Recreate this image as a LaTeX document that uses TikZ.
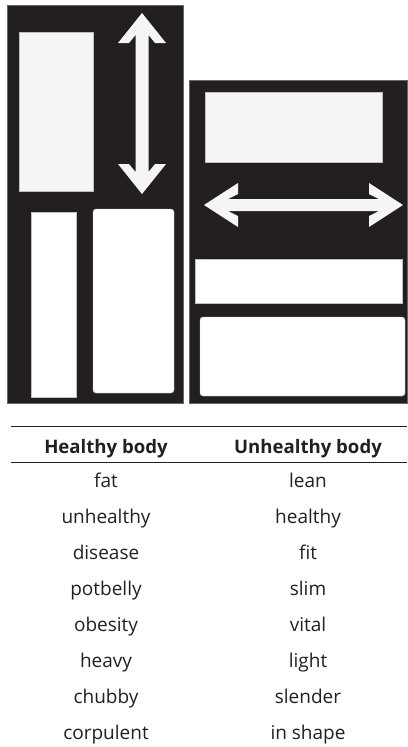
\documentclass[tikz,border=0pt]{standalone}
\usepackage{fontspec}
\setmainfont{Open Sans}
\definecolor{ink}{HTML}{231F20}
\definecolor{paper}{HTML}{F5F5F5}
\begin{document}
\begin{tikzpicture}[x=1pt,y=-1pt,
  panel/.style={fill=ink,draw=black!60,line width=0.5pt},
  lightbox/.style={fill=paper,draw=black!25,line width=0.4pt},
  whitebox/.style={fill=white,draw=black!25,line width=0.4pt},
  arrowshape/.style={fill=paper,draw=none},
  rule/.style={draw=ink,line width=0.9pt},
  head/.style={font=\fontsize{18.6}{22}\selectfont\bfseries,text=ink,anchor=base,inner sep=0pt},
  cell/.style={font=\fontsize{19}{22}\selectfont,text=ink,anchor=base,inner sep=0pt}]
\useasboundingbox (0,0) rectangle (407,747);
% left panel
\path[panel] (7,5) rectangle (183,403);
\path[lightbox] (19,32) rectangle (93,191);
\path[whitebox] (31,212) rectangle (76,397);
\path[whitebox,rounded corners=3pt] (93,209) rectangle (174,393);
\path[arrowshape] (142,13) -- (166,43) -- (155,43) -- (148.5,35) -- (148.5,172) -- (155,164) -- (166,164) -- (142,194)
  -- (118,164) -- (129,164) -- (135.5,172) -- (135.5,35) -- (129,43) -- (118,43) -- cycle;
% right panel
\path[panel] (189,80) rectangle (407,403);
\path[lightbox] (205,92) rectangle (382,162);
\path[arrowshape] (204,205) -- (238,183) -- (238,194) -- (228,199) -- (379,199) -- (369,194) -- (369,183) -- (403,205)
  -- (369,227) -- (369,216) -- (379,211) -- (228,211) -- (238,216) -- (238,227) -- cycle;
\path[whitebox] (195,259) rectangle (402,303);
\path[whitebox,rounded corners=3pt] (200,317) rectangle (405,396);
% table
\draw[rule] (11,426) coordinate (r1a) -- (407,426) coordinate (r1b);
\draw[rule] (11,462) coordinate (r2a) -- (407,462) coordinate (r2b);
\node[head] (h1) at (106,453) {Healthy body};
\node[head] (h2) at (308,453) {Unhealthy body};
\node[cell] (a1) at (106,487) {fat};
\node[cell] (b1) at (308,487) {lean};
\node[cell] (a2) at (106,523) {unhealthy};
\node[cell] (b2) at (308,523) {healthy};
\node[cell] (a3) at (106,559) {disease};
\node[cell] (b3) at (308,559) {fit};
\node[cell] (a4) at (106,595) {potbelly};
\node[cell] (b4) at (308,595) {slim};
\node[cell] (a5) at (106,631) {obesity};
\node[cell] (b5) at (308,631) {vital};
\node[cell] (a6) at (106,667) {heavy};
\node[cell] (b6) at (308,667) {light};
\node[cell] (a7) at (106,703) {chubby};
\node[cell] (b7) at (308,703) {slender};
\node[cell] (a8) at (106,739) {corpulent};
\node[cell] (b8) at (308,739) {in shape};
\end{tikzpicture}
\end{document}
